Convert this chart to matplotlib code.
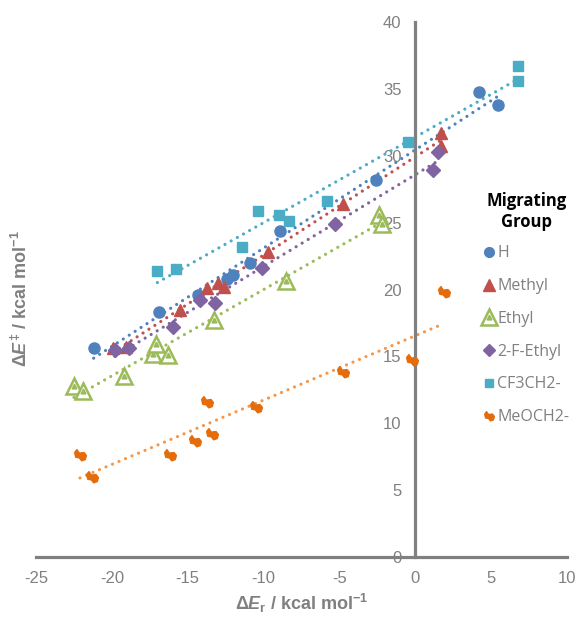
import matplotlib
matplotlib.use('Agg')
import matplotlib.pyplot as plt
from matplotlib.lines import Line2D
from matplotlib.path import Path
import numpy as np

# data (kcal/mol)
h_x = [-21.2, -16.9, -14.3, -12.4, -12.0, -10.9, -8.95, -2.57, 4.17, 5.47]
h_y = [15.6, 18.3, 19.6, 20.8, 21.1, 22.0, 24.4, 28.2, 34.8, 33.8]

methyl_x = [-19.9, -19.1, -15.5, -13.7, -13.0, -12.6, -9.7, -4.77, 1.69, 1.69]
methyl_y = [15.6, 15.7, 18.5, 20.1, 20.5, 20.2, 22.8, 26.4, 31.7, 30.7]

ethyl_x = [-22.5, -21.9, -19.2, -17.3, -17.1, -16.3, -13.3, -8.5, -2.4, -2.2]
ethyl_y = [12.8, 12.4, 13.5, 15.2, 15.9, 15.1, 17.7, 20.6, 25.6, 24.9]

fethyl_x = [-19.8, -18.9, -16.0, -14.2, -13.2, -10.1, -5.3, 1.17, 1.5]
fethyl_y = [15.5, 15.6, 17.2, 19.2, 19.0, 21.6, 24.9, 28.9, 30.3]

cf3_x = [-17.0, -15.8, -11.4, -10.4, -9.0, -8.35, -5.8, -0.5, 6.8, 6.8]
cf3_y = [21.4, 21.5, 23.2, 25.9, 25.6, 25.1, 26.6, 31.0, 36.7, 35.6]

meo_x = [-22.1, -21.3, -16.2, -14.5, -13.7, -13.4, -10.5, -4.77, -0.2, 1.87]
meo_y = [7.6, 6.0, 7.6, 8.65, 11.6, 9.2, 11.2, 13.85, 14.7, 19.8]

labels = ['H', 'Methyl', 'Ethyl', '2-F-Ethyl', 'CF3CH2-', 'MeOCH2-']

plt.rcParams['axes.unicode_minus'] = False
plt.rcParams['mathtext.fontset'] = 'custom'
plt.rcParams['mathtext.rm'] = 'Liberation Sans:bold'
plt.rcParams['mathtext.bf'] = 'Liberation Sans:bold'
plt.rcParams['mathtext.it'] = 'Liberation Sans:bold:italic'

gray = '#808080'
blob = Path([(-1, 0.5), (-0.6, 1), (-0.2, 0.4), (0.6, 0.5), (1, 0), (0.8, -0.7),
             (0.2, -0.9), (-0.2, -0.4), (-0.8, -0.3), (-1, 0.5)])

fig = plt.figure(figsize=(5.78, 6.18), dpi=100)
ax = fig.add_axes([36/578, 61/618, 531/578, 535/618])

def trend(x, y, c):
    k, b = np.polyfit(x, y, 1)
    xx = np.array([min(x), max(x)])
    ax.plot(xx, k*xx + b, color=c, lw=2.3, ls=(0, (0.01, 2.2)),
            dash_capstyle='round', zorder=2)

trend(h_x, h_y, '#4F81BD')
trend(methyl_x, methyl_y, '#C0504D')
trend(ethyl_x, ethyl_y, '#9BBB59')
trend(fethyl_x, fethyl_y, '#8064A2')
trend(cf3_x, cf3_y, '#4BACC6')
trend(meo_x, meo_y, '#F79646')

ax.plot(h_x, h_y, 'o', color='#4F81BD', ms=8, ls='none', zorder=3)
ax.plot(methyl_x, methyl_y, '^', color='#C0504D', ms=9, ls='none', zorder=3)
ax.plot(ethyl_x, ethyl_y, '^', mfc='white', mec='#9BBB59', mew=1.8, ms=11, ls='none', zorder=3)
ax.plot(ethyl_x, ethyl_y, '^', color='#9BBB59', ms=3.5, ls='none', zorder=3)
ax.plot(fethyl_x, fethyl_y, 'D', color='#8064A2', ms=7.5, ls='none', zorder=3)
ax.plot(cf3_x, cf3_y, 's', color='#4BACC6', ms=7.5, ls='none', zorder=3)
ax.plot(meo_x, meo_y, marker=blob, color='#E46C0A', ms=8.5, ls='none', zorder=3)

ax.set_xlim(-25, 10)
ax.set_ylim(0, 40)
ax.spines['left'].set_position(('data', 0))
ax.spines['bottom'].set_position(('data', 0))
ax.spines['top'].set_visible(False)
ax.spines['right'].set_visible(False)
for s in ['left', 'bottom']:
    ax.spines[s].set_color(gray)
    ax.spines[s].set_linewidth(2.3)
ax.set_xticks(range(-25, 11, 5))
ax.set_yticks(range(0, 41, 5))
ax.tick_params(length=0, pad=10, labelsize=12, labelcolor=gray)
for t in ax.get_xticklabels() + ax.get_yticklabels():
    t.set_fontfamily('Liberation Sans')

ax.set_xlabel(r'Δ$\mathit{E}_{\mathrm{r}}$ / kcal mol$^{-1}$', fontsize=13,
              fontweight='bold', color=gray, fontfamily='Liberation Sans')
ax.set_ylabel(r'Δ$\mathit{E}^{‡}$ / kcal mol$^{-1}$', fontsize=13,
              fontweight='bold', color=gray, fontfamily='Liberation Sans')
ax.xaxis.set_label_coords(0.5, -0.065)
ax.yaxis.set_label_coords(-0.01, 0.484)

handles = [
    Line2D([], [], marker='o', color='#4F81BD', ms=7, ls='none'),
    Line2D([], [], marker='^', color='#C0504D', ms=8, ls='none'),
    (Line2D([], [], marker='^', mfc='white', mec='#9BBB59', mew=1.8, ms=11, ls='none'),
     Line2D([], [], marker='^', color='#9BBB59', ms=3.5, ls='none')),
    Line2D([], [], marker='D', color='#8064A2', ms=6.5, ls='none'),
    Line2D([], [], marker='s', color='#4BACC6', ms=6, ls='none'),
    Line2D([], [], marker=blob, color='#E46C0A', ms=7, ls='none'),
]
leg = ax.legend(handles, labels, title='Migrating\nGroup', loc='upper left',
                bbox_to_anchor=(475/578, 1 - 184/618), bbox_transform=fig.transFigure,
                frameon=False, handlelength=0.8, handletextpad=0.1, labelspacing=1.05,
                borderpad=0, prop={'family': 'Open Sans', 'size': 11.5})
for t in leg.get_texts():
    t.set_color(gray)
leg.get_title().set_fontweight('bold')
leg.get_title().set_fontfamily('Open Sans')
leg.get_title().set_fontsize(12)
leg.get_title().set_multialignment('center')
leg._legend_box.sep = 10.5

fig.savefig('out.png', dpi=100)
